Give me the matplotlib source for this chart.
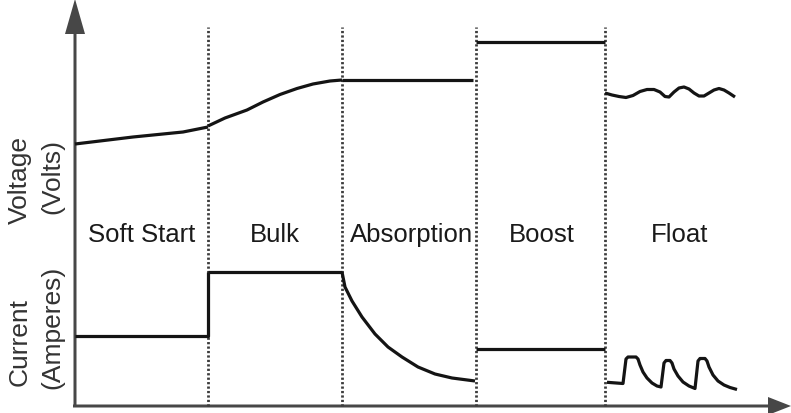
"""Charging stages diagram: voltage and current through the charge cycle."""

import matplotlib
matplotlib.use('Agg')
import matplotlib.pyplot as plt

# stage names and the borders between stages (x in px from left)
stages = ['Soft Start', 'Bulk', 'Absorption', 'Boost', 'Float']
stage_centers = [142, 275, 412, 542, 680]
stage_edges = [208, 342, 476, 605]

# voltage trace (height above bottom of figure)
v_soft_x = [75, 133, 183, 208]
v_soft_y = [269, 276, 281, 286]
v_bulk_x = [208, 225, 247, 263, 280, 297, 313, 330, 342]
v_bulk_y = [287, 295, 303, 311, 318.5, 324.5, 329, 332, 333]
v_abs_x = [342, 473]
v_abs_y = [333, 333]
v_boost_x = [476, 605]
v_boost_y = [371, 371]
v_float_x = [605, 612, 619, 626, 633, 640, 647, 654, 660, 665, 669, 674,
             679, 684, 689, 694, 699, 704, 709, 714, 719, 724, 729, 735]
v_float_y = [320, 318, 316.5, 315.5, 317.5, 321.5, 323.5, 323.5, 321, 316.5, 316, 321,
             325, 326, 324, 320, 317, 317, 320, 323, 324.5, 323, 320, 316]

# current trace
i_soft_x = [75, 208, 208]
i_soft_y = [77.3, 77.3, 141.3]
i_bulk_x = [208, 342]
i_bulk_y = [141.3, 141.3]
i_abs_x = [342, 345, 352, 362, 375, 388, 402, 418, 435, 452, 475]
i_abs_y = [141, 126, 112, 96, 79, 66, 56, 46, 39, 35, 32]
i_boost_x = [476, 605]
i_boost_y = [64, 64]
i_float_x = [607, 623, 626, 628, 636, 638, 640, 643, 647, 652, 657, 661,
             664, 666, 670, 672, 674, 678, 683, 689, 695,
             698, 700, 705, 707, 709, 713, 718, 724, 730, 737]
i_float_y = [30.7, 29.5, 54, 56, 56, 54, 48, 41, 35, 30, 27, 26,
             50, 52.5, 52.5, 50, 44, 37, 31, 27, 24.5,
             52, 54.5, 54.5, 52, 46, 38, 32, 28, 25.5, 23.5]

fig = plt.figure(figsize=(7.91, 4.14), dpi=100)
ax = fig.add_axes([0, 0, 1, 1])
ax.set_xlim(0, 791)
ax.set_ylim(0, 414)
ax.axis('off')

# stage separators
for x in stage_edges:
    ax.plot([x, x], [7, 386], color='#3c3c3c', lw=2.0, ls=(0, (0.8, 0.8)))

# axes arrows
ax.arrow(75, 7, 0, 407, width=3, head_width=20, head_length=35,
         length_includes_head=True, color='#474747', lw=0)
ax.arrow(73, 7, 718, 0, width=3, head_width=18, head_length=23,
         length_includes_head=True, color='#474747', lw=0)

line_kw = dict(color='#141414', lw=2.3, solid_capstyle='butt', solid_joinstyle='round')
for xs, ys in [(v_soft_x, v_soft_y), (v_bulk_x, v_bulk_y), (v_abs_x, v_abs_y),
               (v_boost_x, v_boost_y), (v_float_x, v_float_y),
               (i_soft_x, i_soft_y), (i_bulk_x, i_bulk_y), (i_abs_x, i_abs_y),
               (i_boost_x, i_boost_y), (i_float_x, i_float_y)]:
    ax.plot(xs, ys, **line_kw)

font = 'Liberation Sans'
for name, cx in zip(stages, stage_centers):
    ax.text(cx, 179, name, ha='center', va='center', fontsize=18.5,
            family=font, color='#1a1a1a')

ax.text(20, 234, 'Voltage', rotation=90, ha='center', va='center',
        fontsize=19, family=font, color='#333333')
ax.text(52, 238, '(Volts)', rotation=90, ha='center', va='center',
        fontsize=19, family=font, color='#333333')
ax.text(20, 72, 'Current', rotation=90, ha='center', va='center',
        fontsize=19, family=font, color='#333333')
ax.text(52, 87, '(Amperes)', rotation=90, ha='center', va='center',
        fontsize=19, family=font, color='#333333')

fig.savefig('out.png', dpi=100, facecolor='white')
